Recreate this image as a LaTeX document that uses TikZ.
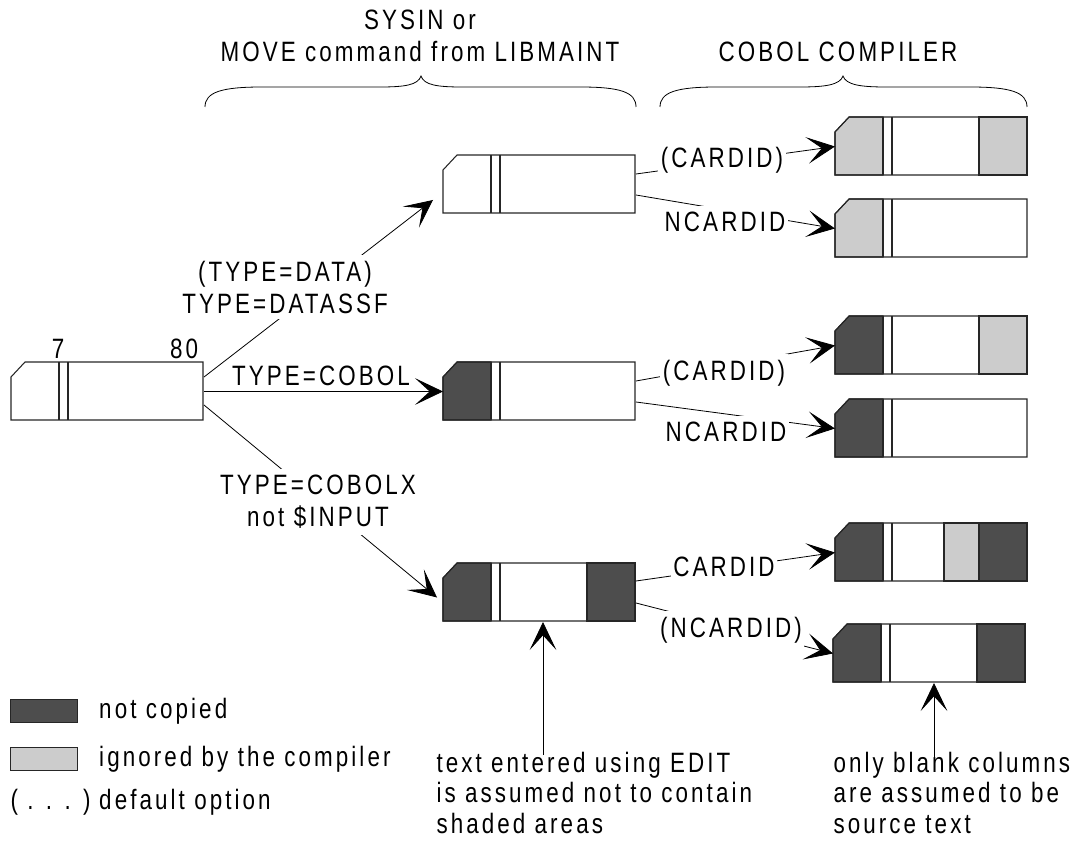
\documentclass[tikz,border=0pt]{standalone}
\usepackage{fontspec}
\setmainfont{Liberation Sans}[FakeStretch=0.8,LetterSpace=11]
\usetikzlibrary{arrows.meta,calc,positioning}

\definecolor{shadedark}{RGB}{77,77,77}
\definecolor{shadelight}{RGB}{204,204,204}

\tikzset{every picture/.style={line width=0.75pt},
  cardnode/.style={minimum width=144pt,minimum height=43.5pt,inner sep=0pt,draw=none},
  cardline/.style={draw=black!85,line width=0.8pt},
  nofill/.style={},
  notcopied/.style={fill=shadedark,draw=black!85,line width=0.8pt},
  ignored/.style={fill=shadelight,draw=black!85,line width=0.8pt},
  conn/.style={draw=black,line width=0.6pt},
  bigtip/.style={-{Stealth[length=21pt,width=20pt,inset=11pt]}},
  lbl/.style={inner sep=4.5pt,font=\fontsize{21}{24}\selectfont,align=center},
  cut/.style={lbl,fill=white,inner xsep=2pt},
  note/.style={lbl,align=left,anchor=north west,inner ysep=1pt,font=\fontsize{21}{23}\selectfont},
}

% card: name, left x, top y, left part, light band, right part
\newcommand{\cardat}[6]{%
\begin{scope}[shift={(#2,#3)}]
  \node[cardnode,anchor=north west] (#1) at (0,0) {};
  \path[#4] (0,15) -- (14,0) -- (48,0) -- (48,58) -- (0,58) -- cycle;
  \path[#5] (109,0) rectangle (144,58);
  \path[#6] (144,0) rectangle (192,58);
  \draw[cardline] (0,15) -- (14,0) -- (192,0) -- (192,58) -- (0,58) -- cycle;
  \draw[cardline] (48,0) -- (48,58) (57,0) -- (57,58);
\end{scope}}

\begin{document}
\begin{tikzpicture}[x=0.75pt,y=0.75pt,yscale=-1,xscale=1]
\useasboundingbox (0,0) rectangle (1071,841);

%Shape: Cards
\cardat{src}{11}{362}{nofill}{nofill}{nofill}
\cardat{m1}{443}{155}{nofill}{nofill}{nofill}
\cardat{m2}{443}{362}{notcopied}{nofill}{nofill}
\cardat{m3}{443}{563}{notcopied}{nofill}{notcopied}
\cardat{r1}{835}{117}{ignored}{nofill}{ignored}
\cardat{r2}{835}{199}{ignored}{nofill}{nofill}
\cardat{r3}{835}{316}{notcopied}{nofill}{ignored}
\cardat{r4}{835}{399}{notcopied}{nofill}{nofill}
\cardat{r5}{835}{523}{notcopied}{ignored}{notcopied}
\cardat{r6}{833}{624}{notcopied}{nofill}{notcopied}

%Curve Lines: braces
\draw[conn] (205,107) .. controls (205,92) and (222,87) .. (262,87) -- (380,87) .. controls (405,87) and (418,85) .. (421,76) .. controls (424,85) and (437,87) .. (462,87) -- (580,87) .. controls (620,87) and (636,92) .. (636,107) ;
\draw[conn] (660,107) .. controls (660,92) and (677,87) .. (717,87) -- (800,87) .. controls (825,87) and (840,85) .. (843,76) .. controls (846,85) and (861,87) .. (886,87) -- (970,87) .. controls (1010,87) and (1027,92) .. (1027,107) ;

%Straight Lines: from the input card
\draw[conn,bigtip] ($(src.north east)+(0,15)$) -- ($(m1.south west)+(-10,-14)$) ;
\draw[conn,bigtip] (src.east) -- (m2.west) ;
\draw[conn,bigtip] ($(src.north east)+(0,43)$) -- ($(m3.west)+(-6,5)$) ;

%Straight Lines: to the compiler
\draw[conn,bigtip] ($(m1.north east)+(0,19)$) -- (r1.west) ;
\draw[conn,bigtip] ($(m1.north east)+(0,40)$) -- (r2.west) ;
\draw[conn,bigtip] ($(m2.north east)+(0,19)$) -- (r3.west) ;
\draw[conn,bigtip] ($(m2.north east)+(0,40)$) -- (r4.west) ;
\draw[conn,bigtip] ($(m3.north east)+(0,18)$) -- (r5.west) ;
\draw[conn,bigtip] ($(m3.north east)+(0,40)$) -- (r6.west) ;

%Straight Lines: notes
\coordinate (up1) at (543,755);
\draw[conn,bigtip] (up1) -- (up1 |- m3.south) ;
\coordinate (up2) at (934,768);
\draw[conn,bigtip] (up2) -- (up2 |- r6.south) ;

% Text Node
\node[lbl] (sysin) at (420,36) {SYSIN or\\MOVE command from LIBMAINT};
% Text Node
\node[lbl] (cobc) at (838,52) {COBOL COMPILER};
% Text Node
\node[lbl] (col7) at (58,349) {7};
% Text Node
\node[lbl] (col80) at (184,349) {80};
% Text Node
\node[cut] (tdata) at (285,287) {(TYPE=DATA)\\TYPE=DATASSF};
% Text Node
\node[lbl] (tcobol) at (321,376) {TYPE=COBOL};
% Text Node
\node[cut] (tcobolx) at (318,502) {TYPE=COBOLX\\not \$INPUT};
% Text Node
\node[cut] (card1) at (722,160) {(CARDID)};
\node[cut] (ncard1) at (725,222) {NCARDID};
\node[cut] (card2) at (724,373) {(CARDID)};
\node[cut] (ncard2) at (726,432) {NCARDID};
\node[cut] (card3) at (724,567) {CARDID};
\node[cut] (ncard3) at (731,630) {(NCARDID)};
% Text Node
\node[note] (note1) at (430,750) {text entered using EDIT\\is assumed not to contain\\shaded areas};
\node[note] (note2) at (827,750) {only blank columns\\are assumed to be\\source text};

% Legend
\node[notcopied,minimum width=50.25pt,minimum height=17.25pt,inner sep=0pt,anchor=north west] (keydark) at (10,699) {};
\node[lbl,right=11pt of keydark] (keydarktxt) {not copied};
\node[ignored,minimum width=50.25pt,minimum height=17.25pt,inner sep=0pt,below=18pt of keydark] (keylight) {};
\node[lbl,right=11pt of keylight] (keylighttxt) {ignored by the compiler};
\node[lbl,anchor=west] (keydots) at (4,802) {( . . . )};
\node[lbl,anchor=west] (keydotstxt) at (keylighttxt.west |- keydots) {default option};

\end{tikzpicture}
\end{document}
